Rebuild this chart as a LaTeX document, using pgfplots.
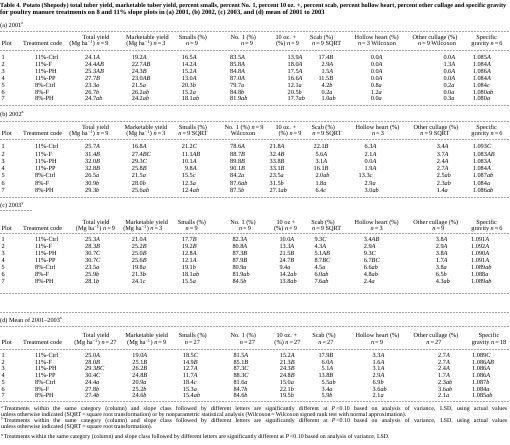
\documentclass[border=0pt]{standalone}
\usepackage{fontspec}
\setmainfont{Liberation Serif}
\usepackage{graphicx}
\usepackage{pgfplots}
\pgfplotsset{compat=1.18}
\newcommand{\lt}[1]{\textit{#1}}
\newcommand{\ph}{\phantom{0}}
\newcommand{\nn}[1]{\textit{n}\,=\,#1}
\newcommand{\mg}{(Mg ha\textsuperscript{−1})}
\newcommand{\bodyfont}{\fontsize{6.3}{7}\selectfont}
\newcommand{\footfont}{\fontsize{5.9}{7}\selectfont}
\newcommand{\titlefont}{\fontsize{6.6}{7}\selectfont\bfseries}
\newcommand{\titlefonta}{\fontsize{6.25}{7}\selectfont\bfseries}
% column starts per section
\def\xaA{85}\def\xaB{131.7}\def\xaC{181.7}\def\xaD{230}\def\xaE{287.5}\def\xaF{318.3}\def\xaG{370.7}\def\xaH{443.3}\def\xaI{472.7}
\def\xbA{85}\def\xbB{131.7}\def\xbC{181.7}\def\xbD{230}\def\xbE{269.5}\def\xbF{313.5}\def\xbG{358.5}\def\xbH{436.7}\def\xbI{472.7}
\def\xcA{85}\def\xcB{131.7}\def\xcC{181.7}\def\xcD{232.3}\def\xcE{279.3}\def\xcF{314.3}\def\xcG{363.7}\def\xcH{435.7}\def\xcI{471}
\def\xdA{85}\def\xdB{132.3}\def\xdC{182.7}\def\xdD{233.3}\def\xdE{279.7}\def\xdF{318.3}\def\xdG{372.5}\def\xdH{438}\def\xdI{472}
\newcommand{\drow}[8]{%
 \node[cell] at (axis cs:1.5,#2) {#3};
 \node[cell] at (axis cs:35,#2) {#4};
 \node[cell] at (axis cs:\csname x#1A\endcsname,#2) {#5};
 \node[cell] at (axis cs:\csname x#1B\endcsname,#2) {#6};
 \node[cell] at (axis cs:\csname x#1C\endcsname,#2) {#7};
 \node[cell] at (axis cs:\csname x#1D\endcsname,#2) {#8};}
\newcommand{\drowb}[7]{%
 \node[cell] at (axis cs:\csname x#1E\endcsname,#2) {#3};
 \node[cell] at (axis cs:\csname x#1F\endcsname,#2) {#4};
 \node[cell] at (axis cs:\csname x#1G\endcsname,#2) {#5};
 \node[cell] at (axis cs:\csname x#1H\endcsname,#2) {#6};
 \node[cell] at (axis cs:\csname x#1I\endcsname,#2) {#7};}
\newcommand{\hd}[3]{\node[hcell] at (axis cs:#1,#2) {#3};}
\newcommand{\rl}[3]{\addplot[rule, forget plot] coordinates {(#1,#3) (#2,#3)};}
\begin{document}
\begin{tikzpicture}[
  cell/.style={anchor=mid west, inner sep=0pt, font=\bodyfont},
  hcell/.style={anchor=mid, inner sep=0pt, font=\bodyfont},
  foot/.style={anchor=mid west, inner sep=0pt, font=\footfont},
  ttl/.style={anchor=mid west, inner sep=0pt, font=\titlefont},
  rule/.style={gray!70, line width=0.45bp, dash pattern=on 1bp off 0.5bp}]
\useasboundingbox (0,0) rectangle (510bp,445bp);
\begin{axis}[hide axis, scale only axis, width=510bp, height=445bp,
  xmin=0, xmax=510, ymin=0, ymax=445, y dir=reverse, clip=false,
  at={(0,0)}, anchor=south west]
% ---- rules
\rl{0}{510}{31.7}\rl{0}{510}{50}\rl{0}{510}{105.7}
\rl{0}{510}{121}\rl{0}{510}{139}\rl{0}{510}{197.3}
\rl{0}{32}{210.5}\rl{0}{510}{233}\rl{0}{510}{293.3}
\rl{0}{510}{312.7}\rl{0}{510}{326.7}\rl{0}{510}{349}\rl{0}{510}{401.7}
% ---- title
\node[ttl, font=\titlefonta] at (axis cs:0,4.8) {\makebox[506bp][s]{Table 4. Potato (Shepody) total tuber yield, marketable tuber yield, percent smalls, percent No. 1, percent 10 oz. +, percent scab, percent hollow heart, percent other cullage and specific gravity}};
\node[ttl] at (axis cs:0,12.4) {for poultry manure treatments on 8 and 11\% slope plots in (a) 2001, (b) 2002, (c) 2003, and (d) mean of 2001 to 2003};
% ================= (a)
\node[cell] at (axis cs:0,25) {(a) 2001\textsuperscript{z}};
\hd{96}{37}{Total yield}\hd{147.5}{37}{Marketable yield}\hd{193}{37}{Smalls (\%)}\hd{243.3}{37}{No. 1 (\%)}
\hd{286}{37}{10 oz. +}\hd{321.7}{37}{Scab (\%)}\hd{376.7}{37}{Hollow heart (\%)}\hd{435}{37}{Other cullage (\%)}\hd{486.7}{37}{Specific}
\node[cell] at (axis cs:1.5,43.7) {Plot};
\hd{42.7}{43.7}{Treatment code}\hd{89}{43.7}{\mg\ \nn{9}}\hd{146}{43.7}{\mg\ \nn{3}}\hd{192}{43.7}{\nn{9}}\hd{247}{43.7}{\nn{9}}
\hd{287.5}{43.7}{(\%) \nn{9}}\hd{326.7}{43.7}{\nn{9} SQRT}\hd{377}{43.7}{\nn{3} Wilcoxon}\hd{437}{43.7}{\nn{9} Wilcoxon}\hd{487}{43.7}{gravity \nn{6}}
\drow{a}{57.3}{1}{11\%-Ctrl}{24.1\lt{A}}{19.2\lt{A}}{16.5\lt{A}}{83.5\lt{A}}
\drowb{a}{57.3}{13.9\lt{A}}{17.4\lt{B}}{0.0\lt{A}}{0.0\lt{A}}{1.085\lt{A}}
\drow{a}{64.2}{2}{11\%-F}{24.4\lt{AB}}{22.7\lt{AB}}{14.2\lt{A}}{85.8\lt{A}}
\drowb{a}{64.2}{18.0\lt{A}}{\ph2.9\lt{A}}{0.0\lt{A}}{1.3\lt{A}}{1.084\lt{A}}
\drow{a}{71.1}{3}{11\%-PH}{25.3\lt{AB}}{24.3\lt{B}}{15.2\lt{A}}{84.8\lt{A}}
\drowb{a}{71.1}{17.5\lt{A}}{\ph1.5\lt{A}}{0.0\lt{A}}{0.6\lt{A}}{1.086\lt{A}}
\drow{a}{78.0}{4}{11\%-PP}{27.7\lt{B}}{23.0\lt{AB}}{13.0\lt{A}}{87.0\lt{A}}
\drowb{a}{78.0}{16.6\lt{A}}{11.5\lt{B}}{0.0\lt{A}}{0.0\lt{A}}{1.084\lt{A}}
\drow{a}{84.9}{5}{8\%-Ctrl}{23.3\lt{a}}{21.5\lt{a}}{20.3\lt{b}}{79.7\lt{a}}
\drowb{a}{84.9}{12.1\lt{a}}{\ph4.2\lt{b}}{0.8\lt{a}}{0.2\lt{a}}{1.084\lt{c}}
\drow{a}{91.8}{6}{8\%-F}{26.7\lt{b}}{26.2\lt{ab}}{15.2\lt{a}}{84.8\lt{b}}
\drowb{a}{91.8}{20.5\lt{b}}{\ph0.2\lt{a}}{1.2\lt{a}}{0.0\lt{a}}{1.080\lt{ab}}
\drow{a}{98.7}{7}{8\%-PH}{24.7\lt{ab}}{24.2\lt{ab}}{18.1\lt{ab}}{81.9\lt{ab}}
\drowb{a}{98.7}{17.7\lt{ab}}{\ph1.0\lt{ab}}{0.0\lt{a}}{0.3\lt{a}}{1.080\lt{a}}
% ================= (b)
\node[cell] at (axis cs:0,114) {(b) 2002\textsuperscript{z}};
\hd{95.5}{127.5}{Total yield}\hd{146}{127.5}{Marketable yield}\hd{193}{127.5}{Smalls (\%)}\hd{244}{127.5}{No. 1 (\%) \nn{9}}
\hd{286}{127.5}{10 oz. +}\hd{323.3}{127.5}{Scab (\%)}\hd{377.5}{127.5}{Hollow heart (\%)}\hd{436}{127.5}{Other cullage (\%)}\hd{486.7}{127.5}{Specific}
\node[cell] at (axis cs:1.5,133.5) {Plot};
\hd{42.7}{133.5}{Treatment code}\hd{89}{133.5}{\mg\ \nn{9}}\hd{146}{133.5}{\mg\ \nn{3}}\hd{193}{133.5}{\nn{9} SQRT}\hd{243}{133.5}{Wilcoxon}
\hd{290}{133.5}{(\%) \nn{9}}\hd{327}{133.5}{\nn{9} SQRT}\hd{378}{133.5}{\nn{3}}\hd{435}{133.5}{\nn{9} SQRT}\hd{487}{133.5}{gravity \nn{6}}
\drow{b}{146.5}{1}{11\%-Ctrl}{25.7\lt{A}}{16.8\lt{A}}{21.2\lt{C}}{78.6\lt{A}}
\drowb{b}{146.5}{21.8\lt{A}}{22.1\lt{B}}{\hspace{6bp}6.3\lt{A}}{3.4\lt{A}}{1.093\lt{C}}
\drow{b}{153.8}{2}{11\%-F}{31.4\lt{B}}{27.4\lt{BC}}{11.1\lt{AB}}{88.7\lt{B}}
\drowb{b}{153.8}{32.4\lt{B}}{\hspace{1.8bp}5.6\lt{A}}{\hspace{6bp}2.1\lt{A}}{3.7\lt{A}}{1.083\lt{AB}}
\drow{b}{161.1}{3}{11\%-PH}{32.0\lt{B}}{29.3\lt{C}}{10.1\lt{A}}{89.8\lt{B}}
\drowb{b}{161.1}{33.8\lt{B}}{\hspace{1.8bp}3.1\lt{A}}{\hspace{6bp}0.0\lt{A}}{2.4\lt{A}}{1.083\lt{A}}
\drow{b}{168.4}{4}{11\%-PP}{32.8\lt{B}}{25.8\lt{B}}{\ph9.8\lt{A}}{90.1\lt{B}}
\drowb{b}{168.4}{33.1\lt{B}}{16.1\lt{B}}{\hspace{6bp}1.9\lt{A}}{2.7\lt{A}}{1.084\lt{A}}
\drow{b}{175.7}{5}{8\%-Ctrl}{26.5\lt{a}}{21.5\lt{a}}{15.5\lt{c}}{84.2\lt{a}}
\drowb{b}{175.7}{23.5\lt{a}}{\hspace{1.8bp}2.0\lt{ab}}{13.3\lt{c}}{2.5\lt{ab}}{1.087\lt{ab}}
\drow{b}{183.0}{6}{8\%-F}{30.9\lt{b}}{28.0\lt{b}}{12.3\lt{a}}{87.6\lt{ab}}
\drowb{b}{183.0}{31.5\lt{b}}{\hspace{1.8bp}1.8\lt{a}}{\hspace{6bp}2.9\lt{a}}{2.3\lt{ab}}{1.084\lt{a}}
\drow{b}{190.3}{7}{8\%-PH}{29.3\lt{b}}{25.6\lt{ab}}{12.4\lt{ab}}{87.5\lt{b}}
\drowb{b}{190.3}{27.1\lt{ab}}{\hspace{1.8bp}6.4\lt{c}}{\hspace{6bp}3.0\lt{ab}}{1.4\lt{a}}{1.086\lt{ab}}
% ================= (c)
\node[cell] at (axis cs:0,205) {(c) 2003\textsuperscript{y}};
\hd{96}{222.3}{Total yield}\hd{146.7}{222.3}{Marketable yield}\hd{192}{222.3}{Smalls (\%)}\hd{243}{222.3}{No. 1 (\%)}
\hd{286}{222.3}{10 oz +}\hd{323}{222.3}{Scab (\%)}\hd{376.7}{222.3}{Hollow heart (\%)}\hd{435.8}{222.3}{Other cullage (\%)}\hd{486.7}{222.3}{Specific}
\node[cell] at (axis cs:1.5,228.6) {Plot};
\hd{42.7}{228.6}{Treatment code}\hd{95.5}{228.6}{\mg\ \nn{9}}\hd{142.8}{228.6}{\mg\ \nn{3}}\hd{191.7}{228.6}{\nn{9}}\hd{245}{228.6}{\nn{9}}
\hd{285.5}{228.6}{(\%) \nn{9}}\hd{326.7}{228.6}{\nn{9} SQRT}\hd{376.7}{228.6}{\nn{3}}\hd{438.3}{228.6}{\nn{9}}\hd{487}{228.6}{gravity \nn{6}}
\drow{c}{239.5}{1}{11\%-Ctrl}{25.3\lt{A}}{21.0\lt{A}}{17.7\lt{B}}{82.3\lt{A}}
\drowb{c}{239.5}{10.0\lt{A}}{9.3\lt{C}}{3.4\lt{AB}}{3.8\lt{A}}{1.091\lt{A}}
\drow{c}{246.4}{2}{11\%-F}{28.3\lt{B}}{25.2\lt{B}}{19.2\lt{B}}{80.8\lt{A}}
\drowb{c}{246.4}{13.3\lt{A}}{4.3\lt{A}}{2.9\lt{A}}{2.9\lt{A}}{1.092\lt{A}}
\drow{c}{253.3}{3}{11\%-PH}{30.7\lt{C}}{25.0\lt{B}}{12.8\lt{A}}{87.3\lt{B}}
\drowb{c}{253.3}{21.5\lt{B}}{5.1\lt{AB}}{9.3\lt{C}}{3.8\lt{A}}{1.090\lt{A}}
\drow{c}{260.2}{4}{11\%-PP}{30.7\lt{C}}{25.6\lt{B}}{12.1\lt{A}}{87.9\lt{B}}
\drowb{c}{260.2}{24.7\lt{B}}{8.7\lt{BC}}{6.7\lt{BC}}{1.7\lt{A}}{1.091\lt{A}}
\drow{c}{267.0}{5}{8\%-Ctrl}{23.5\lt{a}}{19.8\lt{a}}{19.1\lt{b}}{80.9\lt{a}}
\drowb{c}{267.0}{9.4\lt{a}}{4.5\lt{a}}{6.6\lt{ab}}{3.8\lt{a}}{1.089\lt{ab}}
\drow{c}{273.9}{6}{8\%-F}{25.9\lt{b}}{21.3\lt{b}}{18.1\lt{ab}}{81.9\lt{ab}}
\drowb{c}{273.9}{14.2\lt{ab}}{6.0\lt{ab}}{4.8\lt{ab}}{6.5\lt{b}}{1.088\lt{a}}
\drow{c}{280.8}{7}{8\%-PH}{28.1\lt{b}}{24.1\lt{c}}{15.5\lt{a}}{84.5\lt{b}}
\drowb{c}{280.8}{13.8\lt{ab}}{7.6\lt{ab}}{2.4\lt{a}}{4.3\lt{ab}}{1.089\lt{ab}}
% ================= (d)
\node[cell] at (axis cs:0,320) {(d) Mean of 2001--2003\textsuperscript{x}};
\hd{96}{335.5}{Total yield}\hd{146.7}{335.5}{Marketable yield}\hd{192.8}{335.5}{Smalls (\%)}\hd{243.3}{335.5}{No. 1 (\%)}
\hd{287}{335.5}{10 oz. +}\hd{324}{335.5}{Scab (\%)}\hd{377.5}{335.5}{Hollow heart (\%)}\hd{436}{335.5}{Other cullage (\%)}\hd{489}{335.5}{Specific}
\node[cell] at (axis cs:1.5,342.5) {Plot};
\hd{42.7}{342.5}{Treatment code}\hd{95.5}{342.5}{\mg\ \nn{27}}\hd{146.7}{342.5}{\mg\ \nn{9}}\hd{192.5}{342.5}{\nn{27}}\hd{247.5}{342.5}{\nn{27}}
\hd{287.5}{342.5}{(\%) \nn{27}}\hd{326}{342.5}{\nn{27}}\hd{377}{342.5}{\nn{9}}\hd{434}{342.5}{\nn{27}}\hd{489}{342.5}{gravity \nn{18}}
\drow{d}{355}{1}{11\%-Ctrl}{25.0\lt{A}}{19.0\lt{A}}{18.5\lt{C}}{81.5\lt{A}}
\drowb{d}{355}{15.2\lt{A}}{17.9\lt{B}}{3.3\lt{A}}{2.7\lt{A}}{1.089\lt{C}}
\drow{d}{361.8}{2}{11\%-F}{28.0\lt{B}}{25.1\lt{B}}{14.9\lt{B}}{85.1\lt{B}}
\drowb{d}{361.8}{21.3\lt{B}}{\ph6.0\lt{A}}{1.6\lt{A}}{2.7\lt{A}}{1.086\lt{AB}}
\drow{d}{368.5}{3}{11\%-PH}{29.3\lt{BC}}{26.2\lt{B}}{12.7\lt{A}}{87.3\lt{C}}
\drowb{d}{368.5}{24.3\lt{B}}{\ph5.1\lt{A}}{3.1\lt{A}}{2.4\lt{A}}{1.086\lt{A}}
\drow{d}{375.3}{4}{11\%-PP}{30.4\lt{C}}{24.8\lt{B}}{11.7\lt{A}}{88.3\lt{C}}
\drowb{d}{375.3}{24.8\lt{B}}{13.8\lt{B}}{2.9\lt{A}}{1.7\lt{A}}{1.086\lt{A}}
\drow{d}{382.1}{5}{8\%-Ctrl}{24.4\lt{a}}{20.9\lt{a}}{18.4\lt{c}}{81.6\lt{a}}
\drowb{d}{382.1}{15.0\lt{a}}{\ph5.5\lt{ab}}{6.9\lt{b}}{2.3\lt{ab}}{1.087\lt{b}}
\drow{d}{388.9}{6}{8\%-F}{27.8\lt{b}}{25.2\lt{b}}{15.3\lt{a}}{84.7\lt{b}}
\drowb{d}{388.9}{22.1\lt{b}}{\ph3.4\lt{a}}{3.6\lt{ab}}{3.6\lt{ab}}{1.084\lt{a}}
\drow{d}{395.7}{7}{8\%-PH}{27.4\lt{b}}{24.6\lt{b}}{15.4\lt{ab}}{84.6\lt{b}}
\drowb{d}{395.7}{19.5\lt{b}}{\ph5.9\lt{b}}{2.1\lt{a}}{2.1\lt{a}}{1.085\lt{ab}}
% ================= footnotes
\node[foot] at (axis cs:1,408.3) {\makebox[506bp][s]{\textsuperscript{z}Treatments within the same category (column) and slope class followed by different letters are significantly different at \textit{P}\,<0.10 based on analysis of variance, LSD, using actual values}};
\node[foot] at (axis cs:1,414) {unless otherwise indicated (SQRT\,=\,square root transformation) or by nonparametric statistical analysis (Wilcoxon\,=\,Wilcoxon signed rank test with normal approximation).};
\node[foot] at (axis cs:1,420.2) {\makebox[506bp][s]{\textsuperscript{y}Treatments within the same category (column) and slope class followed by different letters are significantly different at \textit{P}\,<0.10 based on analysis of variance, LSD, using actual values}};
\node[foot] at (axis cs:1,425.8) {unless otherwise indicated (SQRT\,=\,square root transformation).};
\node[foot] at (axis cs:1,436.7) {\textsuperscript{x}Treatments within the same category (column) and slope class followed by different letters are significantly different at \textit{P}\,<0.10 based on analysis of variance, LSD.};
\end{axis}
\end{tikzpicture}
\end{document}
